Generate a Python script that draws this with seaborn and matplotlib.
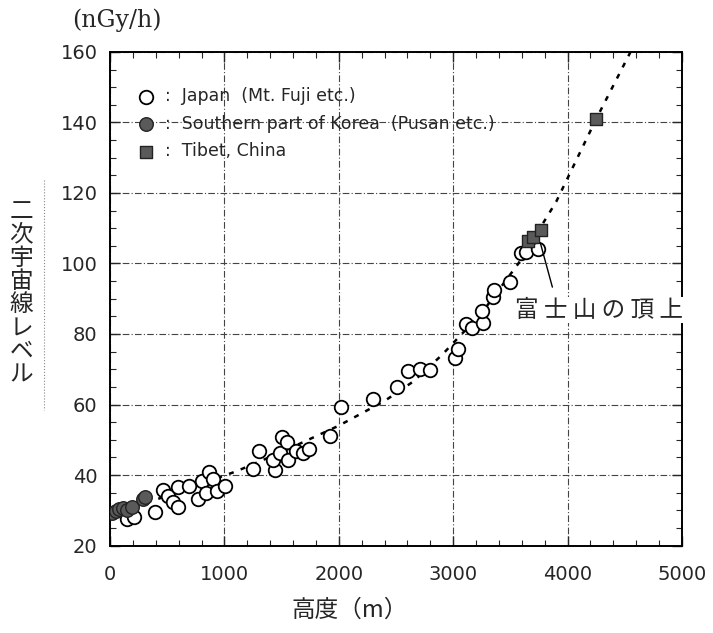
import numpy as np
import pandas as pd
import matplotlib.pyplot as plt
import seaborn as sns
from matplotlib.lines import Line2D

# altitude [m] and dose rate [nGy/h]
japan_alt = [146, 213, 394, 467, 510, 554, 591, 598, 694, 773, 802, 840, 863, 904, 939, 1006,
             1254, 1304, 1438, 1429, 1482, 1502, 1546, 1560, 1625, 1688, 1740, 1925, 2020,
             2300, 2505, 2605, 2710, 2800, 3015, 3045, 3110, 3160, 3260, 3250, 3350, 3355,
             3495, 3595, 3640, 3740]
japan_dose = [27.5, 28.2, 29.5, 35.7, 34.0, 32.4, 31.0, 36.5, 36.9, 33.1, 38.4, 34.8, 40.9, 38.8, 35.5, 36.9,
              41.6, 46.9, 41.4, 44.3, 46.2, 50.7, 49.4, 44.3, 46.9, 46.3, 47.5, 51.2, 59.4,
              61.5, 64.9, 69.4, 70.2, 69.9, 73.1, 75.8, 82.8, 81.8, 83.2, 86.6, 90.4, 92.6,
              94.7, 103.0, 103.2, 104.0]

korea_alt = [20, 50, 80, 110, 150, 190, 290, 310]
korea_dose = [29.2, 29.8, 30.3, 30.6, 30.2, 30.8, 33.3, 33.8]

tibet_alt = [3650, 3700, 3770, 4250]
tibet_dose = [106.5, 107.5, 109.5, 141.0]

# dotted trend curve
curve_alt = [0, 400, 1100, 1500, 2000, 2400, 2650, 2900, 3250, 3570, 3900, 4250, 4550]
curve_dose = [29.5, 33.0, 41.0, 46.5, 54.0, 61.0, 66.5, 74.0, 86.0, 100.0, 117.5, 141.0, 160.0]

sns.set_style("ticks")
plt.rcParams['font.family'] = ['DejaVu Sans', 'Noto Sans CJK JP']
cjk = ['Noto Sans CJK JP']

fig = plt.figure(figsize=(7.13, 6.33), dpi=100)
ax = fig.add_axes([0.1543, 0.1382, 0.8022, 0.7797])

curve = pd.DataFrame({"alt": curve_alt, "dose": curve_dose})
sns.lineplot(data=curve, x="alt", y="dose", ax=ax, color="black", lw=1.8,
             linestyle=(0, (2.0, 3.0)), zorder=2)

jp = pd.DataFrame({"alt": japan_alt, "dose": japan_dose})
kr = pd.DataFrame({"alt": korea_alt, "dose": korea_dose})
tb = pd.DataFrame({"alt": tibet_alt, "dose": tibet_dose})

sns.scatterplot(data=jp, x="alt", y="dose", ax=ax, marker="o", s=95, facecolor="white",
                edgecolor="black", linewidth=1.3, label=":  Japan  (Mt. Fuji etc.)", zorder=3)
sns.scatterplot(data=kr, x="alt", y="dose", ax=ax, marker="o", s=95, color="#5a5a5a",
                edgecolor="#222222", linewidth=1.0, label=":  Southern part of Korea  (Pusan etc.)", zorder=4)
sns.scatterplot(data=tb, x="alt", y="dose", ax=ax, marker="s", s=85, color="#5a5a5a",
                edgecolor="#222222", linewidth=1.0, label=":  Tibet, China", zorder=4)

ax.set_xlim(0, 5000)
ax.set_ylim(20, 160)
ax.set_xticks(range(0, 5001, 1000))
ax.set_yticks(range(20, 161, 20))
ax.set_xticks(range(0, 5001, 200), minor=True)
ax.set_yticks(range(20, 161, 5), minor=True)
ax.tick_params(which="both", direction="in", top=True, right=True, labelsize=14)
ax.tick_params(axis="x", which="major", pad=14)
ax.tick_params(axis="y", which="major", pad=9)
ax.tick_params(which="major", length=7, width=1)
ax.tick_params(which="minor", length=4, width=0.8)
ax.grid(True, which="major", color="#444444", lw=0.8, linestyle=(0, (6, 2, 1, 2)))
for sp in ax.spines.values():
    sp.set_linewidth(1.4)
    sp.set_color("black")
ax.set_xlabel("")
ax.set_ylabel("")

leg = ax.legend(loc="upper left", bbox_to_anchor=(0.015, 0.95), frameon=False, fontsize=12.5,
                handletextpad=0.1, labelspacing=0.55, borderaxespad=0.2, markerscale=1.0)

# annotation for the summit of Mt. Fuji
ax.annotate("", xy=(3762, 105.8), xytext=(3867, 93.3),
            arrowprops=dict(arrowstyle="-", color="black", lw=1.0, shrinkA=0, shrinkB=0),
            zorder=6)
ax.text(3543, 86.8, " ".join("富士山の頂上"), fontsize=17, family=cjk, ha="left", va="center",
        bbox=dict(boxstyle="square,pad=0.05", fc="white", ec="none"), zorder=7, clip_on=False)

fig.text(0.101, 0.968, "(nGy/h)", fontsize=17, family="DejaVu Serif", va="center")
fig.text(0.49, 0.036, "高度（m）", fontsize=17, family=cjk, ha="center", va="center")
fig.text(0.03, 0.537, "\n".join("二次宇宙線レベル"), fontsize=17, family=cjk,
         ha="center", va="center", linespacing=1.02)
fig.add_artist(Line2D([0.062, 0.062], [1 - 180 / 633, 1 - 410 / 633], transform=fig.transFigure,
                      color="#888888", lw=0.8, linestyle=":"))

fig.savefig("out.png", dpi=100)
